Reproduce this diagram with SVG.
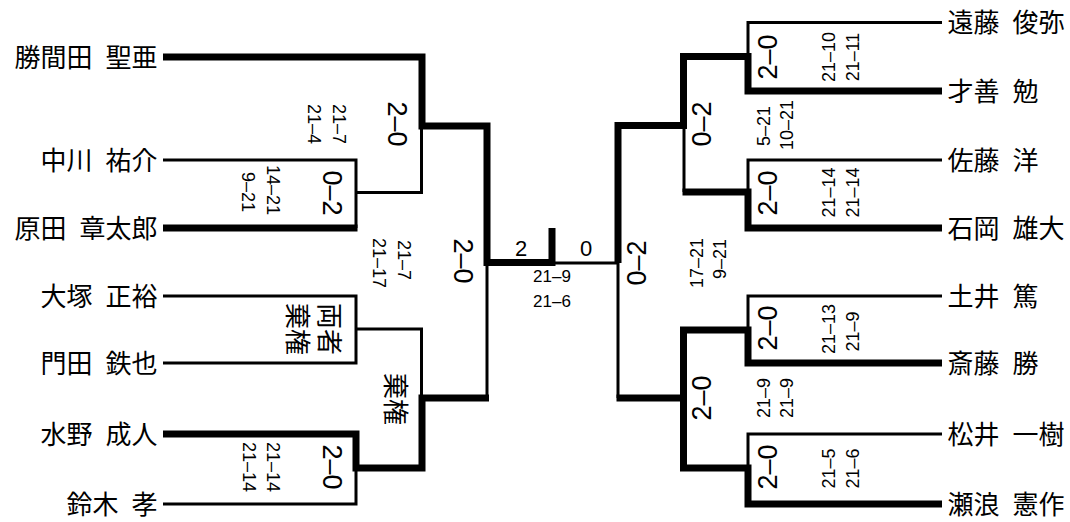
<svg xmlns="http://www.w3.org/2000/svg" width="1070" height="522" viewBox="0 0 1070 522">
<style>
.name{font-family:"Noto Sans CJK JP","Noto Sans CJK SC",sans-serif;font-size:26px;fill:#000}
.l{text-anchor:end}
.r{text-anchor:start}
.ms{font-family:"Liberation Sans",Arial,sans-serif;font-size:27px;text-anchor:middle;dominant-baseline:central;fill:#000}
.gs{font-family:"Liberation Sans",Arial,sans-serif;font-size:18px;text-anchor:middle;dominant-baseline:central;fill:#000}
.cj{font-family:"Noto Sans CJK JP","Noto Sans CJK SC",sans-serif;font-size:26px;text-anchor:middle;dominant-baseline:central;fill:#000}
.fs{font-family:"Liberation Sans",Arial,sans-serif;font-size:22px;text-anchor:middle;fill:#000}
.fg{font-family:"Liberation Sans",Arial,sans-serif;font-size:17px;text-anchor:middle;fill:#000}
.thick{fill:none;stroke:#000;stroke-width:7;stroke-linejoin:miter;stroke-linecap:butt}
.thin{fill:none;stroke:#000;stroke-width:3;stroke-linecap:butt}
</style>
<rect width="1070" height="522" fill="#fff"/>
<g id="connectors">
  <path class="thin" d="M163,160 H356 V228"/>
  <path class="thin" d="M356,192.5 H421.5 V126"/>
  <path class="thin" d="M163,296 H356 V363 H163"/>
  <path class="thin" d="M356,329 H421.5 V398"/>
  <path class="thin" d="M163,504 H356 V468"/>
  <path class="thin" d="M487,398 V262.5"/>
  <path class="thick" d="M163,57 H422 V126 H487 V262.5 H552 V228"/>
  <path class="thick" d="M163,228 H357.5"/>
  <path class="thick" d="M163,434 H356 V468 H422 V398 H489"/>
  <path class="thin" d="M618,263 H555"/>
  <path class="thin" d="M618,263 V398"/>
  <path class="thin" d="M942,22.5 H748 V56.5"/>
  <path class="thin" d="M942,160 H748 V192"/>
  <path class="thin" d="M684,125.5 V192"/>
  <path class="thin" d="M942,296 H748 V330"/>
  <path class="thin" d="M942,434 H748 V468"/>
  <path class="thick" d="M942,91 H748 V56.5 H683.5 V125.5 H618 V263"/>
  <path class="thick" d="M942,228 H748 V192 H682.5"/>
  <path class="thick" d="M942,363 H748 V330 H683.5 V468 H748 V504 H942"/>
  <path class="thick" d="M683.5,398 H616.5"/>
</g>
<g id="players-left">
  <g id="p-katsumata"><text class="name l" x="157.5" y="66.5">勝間田&#8194;聖亜</text></g>
  <g id="p-nakagawa"><text class="name l" x="157.5" y="169.5">中川&#8194;祐介</text></g>
  <g id="p-harada"><text class="name l" x="157.5" y="237.5">原田&#8194;章太郎</text></g>
  <g id="p-otsuka"><text class="name l" x="157.5" y="305.5">大塚&#8194;正裕</text></g>
  <g id="p-kadota"><text class="name l" x="157.5" y="372.5">門田&#8194;鉄也</text></g>
  <g id="p-mizuno"><text class="name l" x="157.5" y="443.5">水野&#8194;成人</text></g>
  <g id="p-suzuki"><text class="name l" x="157.5" y="513.5">鈴木&#8194;孝</text></g>
</g>
<g id="players-right">
  <g id="p-endo"><text class="name r" x="947.5" y="32">遠藤&#8194;俊弥</text></g>
  <g id="p-saizen"><text class="name r" x="947.5" y="100.5">才善&#8194;勉</text></g>
  <g id="p-sato"><text class="name r" x="947.5" y="169.5">佐藤&#8194;洋</text></g>
  <g id="p-ishioka"><text class="name r" x="947.5" y="237.5">石岡&#8194;雄大</text></g>
  <g id="p-doi"><text class="name r" x="947.5" y="305.5">土井&#8194;篤</text></g>
  <g id="p-saito"><text class="name r" x="947.5" y="372.5">斎藤&#8194;勝</text></g>
  <g id="p-matsui"><text class="name r" x="947.5" y="443.5">松井&#8194;一樹</text></g>
  <g id="p-senami"><text class="name r" x="947.5" y="513.5">瀬浪&#8194;憲作</text></g>
</g>
<g id="m-l-r1a">
  <text class="ms" transform="translate(332,193) rotate(90)">0–2</text>
  <text class="gs" transform="translate(273,190) rotate(90)">14–21</text>
  <text class="gs" transform="translate(248,192) rotate(90)">9–21</text>
</g>
<g id="m-l-r1b">
  <text class="cj" transform="translate(331,329) rotate(90)">両者</text>
  <text class="cj" transform="translate(299,329) rotate(90)">棄権</text>
</g>
<g id="m-l-r1c">
  <text class="ms" transform="translate(332,467) rotate(90)">2–0</text>
  <text class="gs" transform="translate(273,467) rotate(90)">21–14</text>
  <text class="gs" transform="translate(249,467) rotate(90)">21–14</text>
</g>
<g id="m-l-r2a">
  <text class="ms" transform="translate(397,124) rotate(90)">2–0</text>
  <text class="gs" transform="translate(338.5,124) rotate(90)">21–7</text>
  <text class="gs" transform="translate(313.5,124) rotate(90)">21–4</text>
</g>
<g id="m-l-r2b">
  <text class="cj" transform="translate(397,399) rotate(90)">棄権</text>
</g>
<g id="m-l-sf">
  <text class="ms" transform="translate(463,261) rotate(90)">2–0</text>
  <text class="gs" transform="translate(403.5,260) rotate(90)">21–7</text>
  <text class="gs" transform="translate(378.5,263) rotate(90)">21–17</text>
</g>
<g id="m-final">
  <text class="fs" x="521" y="256">2</text>
  <text class="fs" x="586" y="256">0</text>
  <text class="fg" x="552" y="282">21–9</text>
  <text class="fg" x="552" y="307">21–6</text>
</g>
<g id="m-r-sf">
  <text class="ms" transform="translate(637,263) rotate(-90)">0–2</text>
  <text class="gs" transform="translate(697,263) rotate(-90)">17–21</text>
  <text class="gs" transform="translate(720,259) rotate(-90)">9–21</text>
</g>
<g id="m-r-r2a">
  <text class="ms" transform="translate(701.5,124) rotate(-90)">0–2</text>
  <text class="gs" transform="translate(763.5,126) rotate(-90)">5–21</text>
  <text class="gs" transform="translate(786.5,125) rotate(-90)">10–21</text>
</g>
<g id="m-r-r2b">
  <text class="ms" transform="translate(701.5,398) rotate(-90)">2–0</text>
  <text class="gs" transform="translate(763.5,398) rotate(-90)">21–9</text>
  <text class="gs" transform="translate(786.5,398) rotate(-90)">21–9</text>
</g>
<g id="m-r-r1a">
  <text class="ms" transform="translate(768,57) rotate(-90)">2–0</text>
  <text class="gs" transform="translate(829,57) rotate(-90)">21–10</text>
  <text class="gs" transform="translate(852.5,57) rotate(-90)">21–11</text>
</g>
<g id="m-r-r1b">
  <text class="ms" transform="translate(768,193) rotate(-90)">2–0</text>
  <text class="gs" transform="translate(829,192.5) rotate(-90)">21–14</text>
  <text class="gs" transform="translate(852.5,192.5) rotate(-90)">21–14</text>
</g>
<g id="m-r-r1c">
  <text class="ms" transform="translate(768,328) rotate(-90)">2–0</text>
  <text class="gs" transform="translate(829,329) rotate(-90)">21–13</text>
  <text class="gs" transform="translate(852.5,331.5) rotate(-90)">21–9</text>
</g>
<g id="m-r-r1d">
  <text class="ms" transform="translate(768,467) rotate(-90)">2–0</text>
  <text class="gs" transform="translate(829,468.5) rotate(-90)">21–5</text>
  <text class="gs" transform="translate(852.5,468.5) rotate(-90)">21–6</text>
</g>
</svg>
